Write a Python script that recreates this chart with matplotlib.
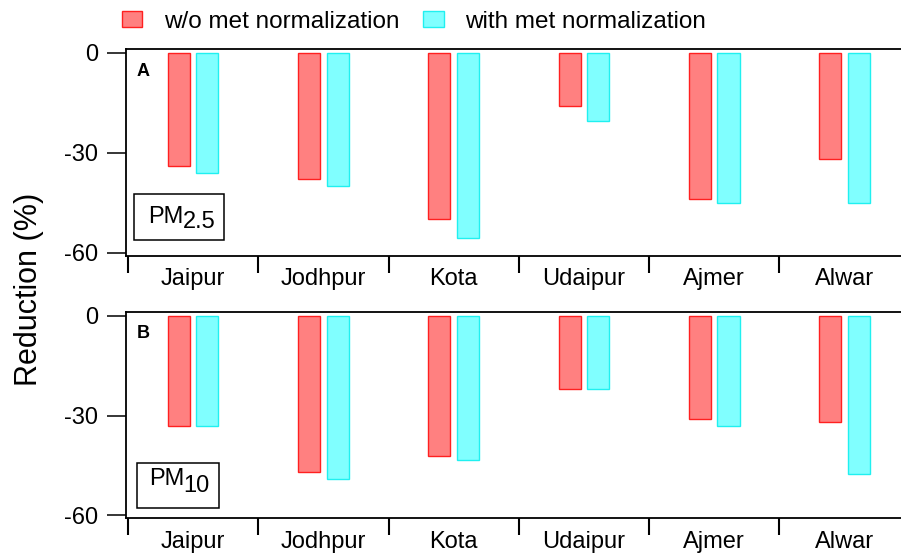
import numpy as np
import matplotlib.pyplot as plt
from matplotlib.patches import Rectangle, Patch

plt.rcParams['font.family'] = ['Liberation Sans', 'DejaVu Sans']

# data (reduction in %)
cities = ['Jaipur', 'Jodhpur', 'Kota', 'Udaipur', 'Ajmer', 'Alwar']
pm25_raw = [-34, -38, -50, -16, -44, -32]
pm25_met = [-36, -40, -55.6, -20.4, -45, -45]
pm10_raw = [-33, -47, -42, -22, -31, -32]
pm10_met = [-33, -49, -43.5, -22, -33, -47.5]

red_fill, red_edge = '#ff8080', '#ff2020'
cyan_fill, cyan_edge = '#80ffff', '#20f0f0'
FS = 17

fig = plt.figure(figsize=(9.01, 5.56), dpi=100)
axA = fig.add_axes([0.1398, 0.5396, 0.872, 0.3718])
axB = fig.add_axes([0.1398, 0.0678, 0.872, 0.3711])

x = np.arange(len(cities))
w = 0.17
off = 0.11


def draw_panel(ax, raw, met, ylim, letter, sub, box, pm_pos, sub_pos):
    ax.bar(x - off, raw, w, color=red_fill, edgecolor=red_edge, linewidth=1)
    ax.bar(x + off, met, w, color=cyan_fill, edgecolor=cyan_edge, linewidth=1)
    ax.set_xlim(-0.515, 5.515)
    ax.set_ylim(*ylim)
    ax.set_yticks([0, -30, -60])
    ax.set_yticklabels(['0', '-30', '-60'])
    ax.tick_params(axis='y', length=14, width=1.1, pad=6, labelsize=FS)
    # boundaries as major ticks, names on minor ticks
    ax.set_xticks(np.arange(len(cities) + 1) - 0.5)
    ax.set_xticklabels([])
    ax.set_xticks(x, minor=True)
    ax.set_xticklabels(cities, minor=True)
    ax.tick_params(axis='x', which='major', length=12, width=1.5)
    ax.tick_params(axis='x', which='minor', length=0, pad=9, labelsize=FS)
    for s in ['left', 'bottom', 'top', 'right']:
        ax.spines[s].set_linewidth(1.3)
    ax.text(0.014, 0.935, letter, transform=ax.transAxes, fontsize=13,
            fontweight='bold', va='top', ha='left')
    ax.add_patch(Rectangle(box[:2], box[2], box[3], transform=ax.transAxes,
                           fill=False, edgecolor='black', linewidth=1.1))
    ax.text(pm_pos[0], pm_pos[1], 'PM', transform=ax.transAxes, fontsize=FS,
            va='baseline', ha='left')
    ax.text(sub_pos[0], sub_pos[1], sub, transform=ax.transAxes, fontsize=FS,
            va='baseline', ha='left')


draw_panel(axA, pm25_raw, pm25_met, (-61, 1), 'A', '2.5',
           (0.0102, 0.0774, 0.1145, 0.2226), (0.028, 0.16), (0.0725, 0.135))
draw_panel(axB, pm10_raw, pm10_met, (-60.9, 1.2), 'B', '10',
           (0.014, 0.050, 0.104, 0.218), (0.0293, 0.161), (0.0725, 0.129))

fig.text(29 / 901, 0.48, 'Reduction (%)', rotation=90, fontsize=22,
         ha='center', va='center')

handles = [Patch(facecolor=red_fill, edgecolor=red_edge, label='w/o met normalization'),
           Patch(facecolor=cyan_fill, edgecolor=cyan_edge, label='with met normalization')]
fig.legend(handles=handles, loc='center', bbox_to_anchor=(0.4595, 0.961), ncol=2,
           frameon=False, fontsize=17.5, handlelength=0.85, handleheight=0.6,
           handletextpad=0.9, columnspacing=0.95, borderaxespad=0)

fig.savefig('out.png', dpi=100)
